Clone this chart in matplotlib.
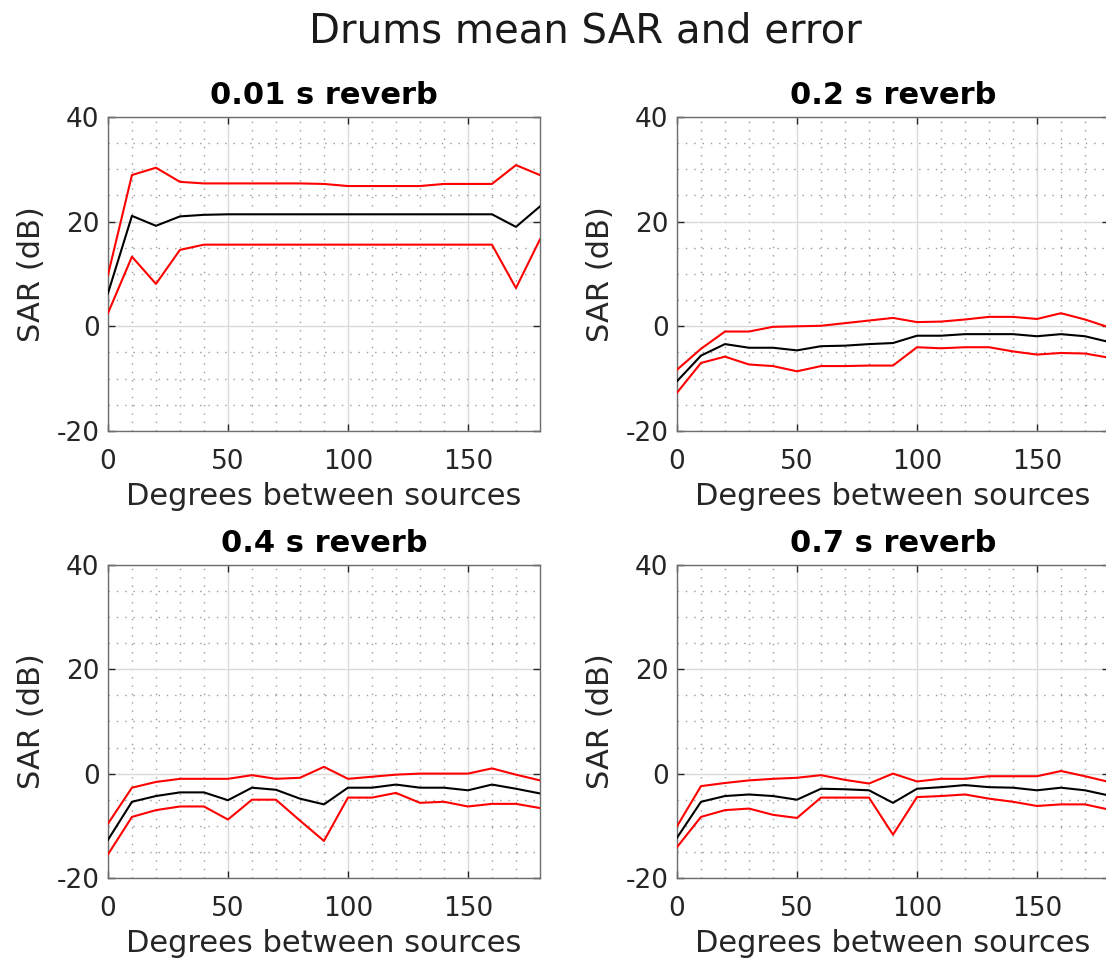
import numpy as np
import matplotlib
matplotlib.use("Agg")
from matplotlib import pyplot as plt
from matplotlib.ticker import MultipleLocator

plt.rcParams['font.family'] = ['DejaVu Sans']
plt.rcParams['axes.unicode_minus'] = False

# Angles between sources (degrees)
degrees = np.arange(0, 181, 10)

reverbs = ['0.01 s reverb', '0.2 s reverb', '0.4 s reverb', '0.7 s reverb']

# Mean SAR (dB) and upper / lower error bounds
mean_001 = [6.3, 21.1, 19.2, 21.0, 21.3, 21.4, 21.4, 21.4, 21.4, 21.4,
            21.4, 21.4, 21.4, 21.4, 21.4, 21.4, 21.4, 19.0, 22.9]
upper_001 = [9.8, 28.9, 30.3, 27.6, 27.3, 27.3, 27.3, 27.3, 27.3, 27.2,
             26.8, 26.8, 26.8, 26.8, 27.2, 27.2, 27.2, 30.8, 28.9]
lower_001 = [2.5, 13.3, 8.1, 14.6, 15.6, 15.6, 15.6, 15.6, 15.6, 15.6,
             15.6, 15.6, 15.6, 15.6, 15.6, 15.6, 15.6, 7.3, 16.6]

mean_02 = [-10.5, -5.6, -3.4, -4.1, -4.1, -4.6, -3.8, -3.7, -3.4, -3.2,
           -1.8, -1.8, -1.5, -1.5, -1.5, -1.9, -1.5, -1.9, -3.0]
upper_02 = [-8.3, -4.3, -1.0, -1.0, -0.1, 0.0, 0.1, 0.6, 1.1, 1.6,
            0.8, 0.9, 1.3, 1.8, 1.8, 1.4, 2.5, 1.3, -0.2]
lower_02 = [-12.7, -7.0, -5.8, -7.3, -7.6, -8.6, -7.6, -7.6, -7.5, -7.5,
            -4.0, -4.2, -4.0, -4.0, -4.8, -5.4, -5.1, -5.2, -6.0]

mean_04 = [-12.7, -5.4, -4.3, -3.6, -3.6, -5.1, -2.7, -3.1, -4.8, -5.9,
           -2.7, -2.7, -2.1, -2.7, -2.7, -3.2, -2.1, -2.9, -3.8]
upper_04 = [-9.6, -2.7, -1.6, -1.0, -1.0, -1.0, -0.3, -1.0, -0.8, 1.3,
            -1.0, -0.6, -0.2, 0.0, 0.0, 0.0, 1.0, -0.2, -1.3]
lower_04 = [-15.5, -8.3, -7.0, -6.3, -6.3, -8.8, -5.0, -5.0, -9.0, -12.9,
            -4.6, -4.6, -3.7, -5.6, -5.4, -6.3, -5.8, -5.8, -6.6]

mean_07 = [-12.3, -5.4, -4.3, -4.0, -4.3, -5.0, -2.9, -3.0, -3.2, -5.6,
           -2.9, -2.6, -2.2, -2.6, -2.7, -3.2, -2.7, -3.2, -4.2]
upper_07 = [-10.1, -2.4, -1.8, -1.3, -1.0, -0.8, -0.3, -1.2, -1.9, 0.0,
            -1.5, -1.0, -1.0, -0.5, -0.5, -0.5, 0.5, -0.5, -1.6]
lower_07 = [-14.1, -8.3, -7.0, -6.7, -7.9, -8.5, -4.6, -4.6, -4.6, -11.7,
            -4.5, -4.3, -4.0, -4.8, -5.4, -6.2, -5.9, -5.9, -6.9]

means = [mean_001, mean_02, mean_04, mean_07]
uppers = [upper_001, upper_02, upper_04, upper_07]
lowers = [lower_001, lower_02, lower_04, lower_07]

fig = plt.figure(figsize=(11.06, 9.65), dpi=100)

# Axes boxes (the right column runs past the figure edge, as in the original)
positions = [
    (0.0976, 0.5534, 0.3906, 0.3254),
    (0.6121, 0.5534, 0.3906, 0.3254),
    (0.0976, 0.0902, 0.3906, 0.3244),
    (0.6121, 0.0902, 0.3906, 0.3244),
]

axcol = '#262626'
for pos, title, m, up, lo in zip(positions, reverbs, means, uppers, lowers):
    ax = fig.add_axes(pos)
    ax.plot(degrees, up, color='#ff0000', lw=1.5, zorder=3)
    ax.plot(degrees, m, color='#000000', lw=1.5, zorder=3)
    ax.plot(degrees, lo, color='#ff0000', lw=1.5, zorder=3)

    ax.set_xlim(0, 180)
    ax.set_ylim(-20, 40)
    ax.xaxis.set_major_locator(MultipleLocator(50))
    ax.xaxis.set_minor_locator(MultipleLocator(10))
    ax.yaxis.set_major_locator(MultipleLocator(20))
    ax.yaxis.set_minor_locator(MultipleLocator(5))

    ax.grid(which='major', color='#dadada', lw=1, ls='-')
    ax.grid(which='minor', color='#9a9a9a', lw=1, ls=(0, (1, 5)))
    ax.set_axisbelow(True)

    ax.tick_params(which='major', direction='in', length=5, width=1,
                   top=True, right=True, color=axcol, labelcolor=axcol,
                   labelsize=19, pad=6)
    ax.tick_params(axis='x', which='major', pad=13)
    ax.tick_params(which='minor', length=0)
    for sp in ax.spines.values():
        sp.set_color('#6e6e6e')
        sp.set_linewidth(1)

    ax.set_title(title, fontsize=22, fontweight='bold', pad=9)
    ax.set_xlabel('Degrees between sources', fontsize=22, color=axcol, labelpad=5)
    ax.set_ylabel('SAR (dB)', fontsize=22, color=axcol, labelpad=8)

fig.text(0.529, 0.967, 'Drums mean SAR and error', fontsize=29,
         ha='center', va='center', color='#1a1a1a')

fig.savefig('out.png', dpi=100)
